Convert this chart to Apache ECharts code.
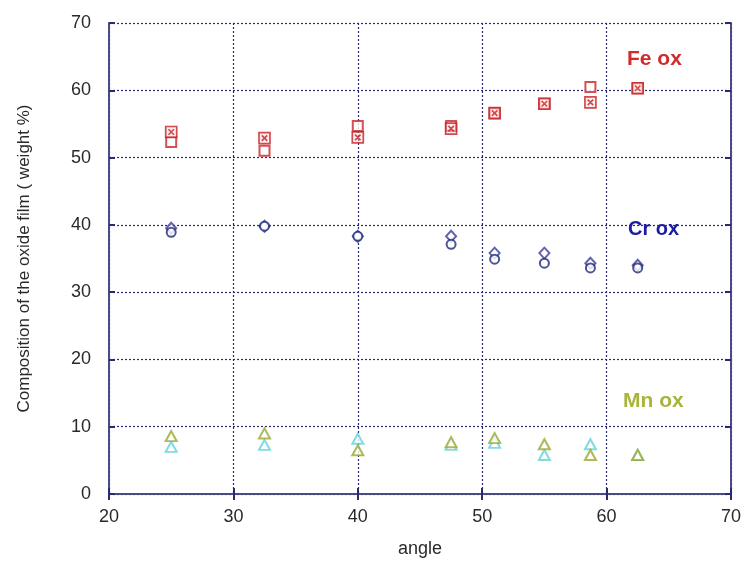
<!DOCTYPE html>
<html><head><meta charset="utf-8">
<script src="https://cdn.jsdelivr.net/npm/echarts@6/dist/echarts.min.js"></script>
<style>html,body{margin:0;padding:0;background:#fff}#c{width:744px;height:569px}</style>
</head><body><div id="c"></div>
<script>
const angles = [25, 32.5, 40, 47.5, 51, 55, 58.7, 62.5];
const feOpen = [52.3, 51.0, 54.7, 54.7, 56.6, 58.0, 60.5, 60.3];
const feCross = [53.8, 52.9, 53.0, 54.3, 56.6, 58.0, 58.2, 60.3];
const crCircle = [38.9, 39.8, 38.3, 37.1, 34.9, 34.3, 33.6, 33.6];
const crDiamond = [39.5, 39.8, 38.3, 38.3, 35.8, 35.8, 34.3, 34.0];
const mnOlive = [8.6, 9.0, 6.5, 7.7, 8.3, 7.4, 5.8, 5.8];
const mnCyan = [7.0, 7.3, 8.2, 7.3, 7.6, 5.8, 7.4, 5.8];
const xTicks = [20, 30, 40, 50, 60, 70];
const yTicks = [0, 10, 20, 30, 40, 50, 60, 70];
const labels = [
  {text: 'Fe ox', color: '#d42a2a'},
  {text: 'Cr ox', color: '#1c1ca0'},
  {text: 'Mn ox', color: '#a9b43a'}
];

const pair = (ys) => angles.map((x, i) => [x, ys[i]]);
const crossPath = 'path://M0,0L10,0L10,10L0,10Z M2.5,2.5L7.5,7.5 M7.5,2.5L2.5,7.5';
const gridLine = {show: true, lineStyle: {color: '#2a2a6e', type: [2, 2], width: 1.2}};
const axisLine = {show: true, lineStyle: {color: '#4a4a86', width: 2}};
const font = 'Liberation Sans, Arial, sans-serif';

const chart = echarts.init(document.getElementById('c'));
chart.setOption({
  backgroundColor: '#fff',
  animation: false,
  grid: {left: 109, right: 12, top: 23, bottom: 75},
  xAxis: [{
    type: 'value', min: xTicks[0], max: xTicks[xTicks.length - 1], interval: 10,
    name: 'angle', nameLocation: 'middle', nameGap: 46,
    nameTextStyle: {fontSize: 18, color: '#2a2a2a', fontFamily: font},
    axisLine: axisLine, axisTick: {show: true, inside: true, length: 6, lineStyle: {color: '#2a2a6e', width: 2}},
    axisLabel: {fontSize: 18, color: '#2a2a2a', fontFamily: font, margin: 14},
    splitLine: gridLine
  }, {
    type: 'value', position: 'top', min: 20, max: 70, interval: 10,
    axisLine: axisLine, axisTick: {show: true, inside: true, length: 6, lineStyle: {color: '#2a2a6e', width: 2}},
    axisLabel: {show: false}, splitLine: {show: false}
  }],
  yAxis: [{
    type: 'value', min: yTicks[0], max: yTicks[yTicks.length - 1], interval: 10,
    name: 'Composition of the oxide film ( weight %)', nameLocation: 'middle', nameGap: 76,
    nameTextStyle: {fontSize: 17, color: '#2a2a2a', fontFamily: font},
    axisLine: axisLine, axisTick: {show: true, inside: true, length: 6, lineStyle: {color: '#2a2a6e', width: 2}},
    axisLabel: {fontSize: 18, color: '#2a2a2a', fontFamily: font, margin: 18},
    splitLine: gridLine
  }, {
    type: 'value', position: 'right', min: 0, max: 70, interval: 10,
    axisLine: axisLine, axisTick: {show: true, inside: true, length: 6, lineStyle: {color: '#2a2a6e', width: 2}},
    axisLabel: {show: false}, splitLine: {show: false}
  }],
  series: [
    {type: 'scatter', data: pair(feOpen), symbol: 'emptyRect', symbolSize: [10, 10],
     itemStyle: {color: '#c8262a', borderWidth: 1.4}},
    {type: 'scatter', data: pair(feCross), symbol: crossPath, symbolSize: [11, 11],
     itemStyle: {color: 'rgba(255,220,220,0.6)', borderColor: '#c41f24', borderWidth: 1.7}},
    {type: 'scatter', data: pair(crDiamond), symbol: 'emptyDiamond', symbolSize: [10, 11],
     itemStyle: {color: '#3a3a9e', borderWidth: 1.2}},
    {type: 'scatter', data: pair(crCircle), symbol: 'emptyCircle', symbolSize: 9,
     itemStyle: {color: '#1e2a78', borderWidth: 1.4}},
    {type: 'scatter', data: pair(mnCyan), symbol: 'emptyTriangle', symbolSize: [11, 10],
     itemStyle: {color: '#5fd3dc', borderWidth: 1.3}},
    {type: 'scatter', data: pair(mnOlive), symbol: 'emptyTriangle', symbolSize: [11, 10],
     itemStyle: {color: '#9aa830', borderWidth: 1.3}}
  ],
  graphic: [
    {type: 'text', left: 627, top: 49, style: {text: labels[0].text, fill: labels[0].color, font: 'bold 21px ' + font}},
    {type: 'text', left: 628, top: 219, style: {text: labels[1].text, fill: labels[1].color, font: 'bold 20px ' + font}},
    {type: 'text', left: 623, top: 391, style: {text: labels[2].text, fill: labels[2].color, font: 'bold 21px ' + font}}
  ]
});
</script>
</body></html>
